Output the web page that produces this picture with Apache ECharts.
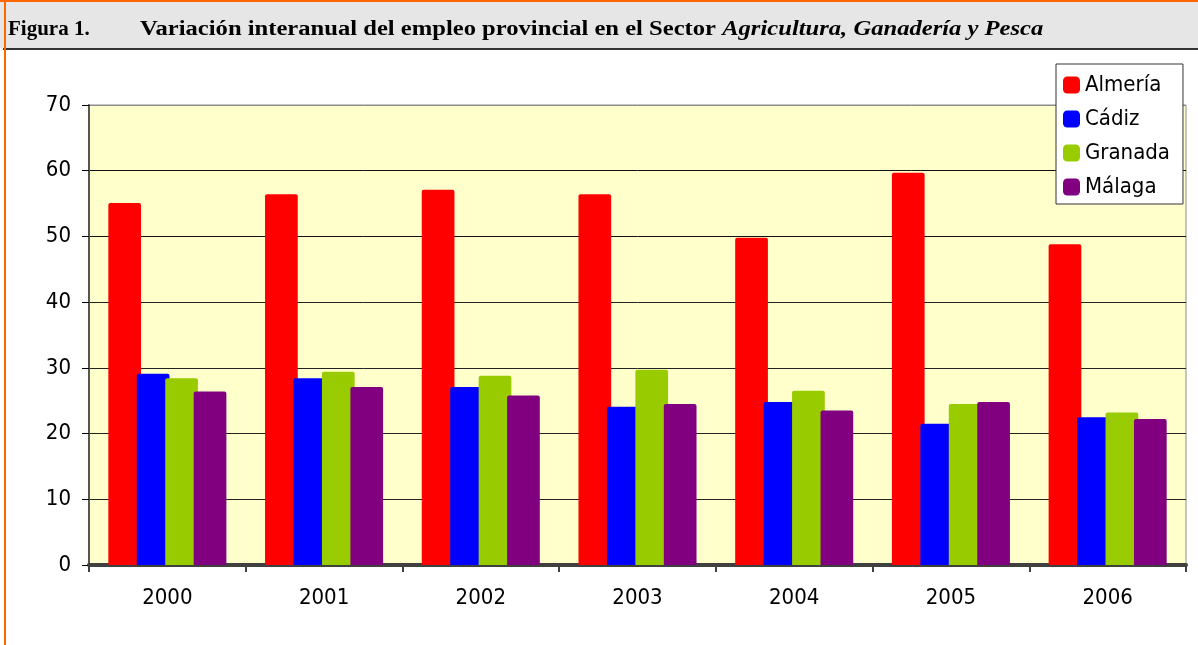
<!DOCTYPE html>
<html>
<head>
<meta charset="utf-8">
<script src="https://cdn.jsdelivr.net/npm/echarts@6/dist/echarts.min.js"></script>
<style>
  html, body { margin: 0; padding: 0; background: #ffffff; }
  #chart { width: 1198px; height: 645px; }
</style>
</head>
<body>
<div id="chart"></div>
<script>
// Years on the category axis
const years = ['2000', '2001', '2002', '2003', '2004', '2005', '2006'];

// Year-on-year employment variation by province (%)
const almeria = [55.1, 56.4, 57.1, 56.4, 49.8, 59.7, 48.8];
const cadiz   = [29.1, 28.4, 27.1, 24.1, 24.8, 21.5, 22.5];
const granada = [28.4, 29.4, 28.8, 29.7, 26.5, 24.5, 23.2];
const malaga  = [26.4, 27.1, 25.8, 24.5, 23.5, 24.8, 22.2];

const seriesNames = ['Almería', 'Cádiz', 'Granada', 'Málaga'];
const seriesData = [almeria, cadiz, granada, malaga];
const seriesColors = ['#FF0000', '#0000FF', '#99CC00', '#800080'];

const axisFont = '"DejaVu Sans Condensed", "DejaVu Sans", sans-serif';
const titleFont = '"Liberation Serif", serif';

const chart = echarts.init(document.getElementById('chart'), null, { renderer: 'canvas' });

chart.setOption({
  animation: false,
  backgroundColor: '#ffffff',
  graphic: [
    // header band
    { type: 'rect', z: -10, shape: { x: 0, y: 2, width: 1198, height: 46 }, style: { fill: '#E6E6E6' } },
    { type: 'rect', z: -9, shape: { x: 0, y: 0, width: 1198, height: 2 }, style: { fill: '#FF6600' } },
    { type: 'rect', z: -9, shape: { x: 3, y: 48, width: 1195, height: 2 }, style: { fill: '#333333' } },
    // left page rule
    { type: 'rect', z: -8, shape: { x: 4, y: 0, width: 2, height: 645 }, style: { fill: '#FF6600' } },
    // figure caption
    {
      type: 'text', z: 10, x: 8, y: 19,
      style: {
        text: 'Figura 1.',
        fontFamily: titleFont,
        fontWeight: 'bold',
        fontSize: 21,
        fill: '#000000',
        verticalAlign: 'top'
      }
    },
    {
      type: 'text', z: 10, x: 140, y: 19, scaleX: 1.2,
      style: {
        text: '{n|Variación interanual del empleo provincial en el Sector }{i|Agricultura, Ganadería y Pesca}',
        fontFamily: titleFont,
        fontWeight: 'bold',
        fontSize: 20.5,
        fill: '#000000',
        verticalAlign: 'top',
        rich: {
          n: { fontFamily: titleFont, fontWeight: 'bold', fontSize: 20.5, fill: '#000000' },
          i: { fontFamily: titleFont, fontWeight: 'bold', fontStyle: 'italic', fontSize: 20.5, fill: '#000000' }
        }
      }
    }
  ],
  legend: {
    orient: 'vertical',
    left: 1056, top: 64,
    padding: [10, 13, 6, 7],
    backgroundColor: '#ffffff',
    borderColor: '#333333',
    borderWidth: 1,
    borderRadius: 0,
    itemWidth: 17, itemHeight: 17,
    itemGap: 12,
    icon: 'roundRect',
    data: seriesNames,
    textStyle: { fontFamily: axisFont, fontSize: 22, color: '#000000', lineHeight: 21, padding: [0, 0, 0, 0] }
  },
  grid: {
    left: 89, right: 12, top: 105, bottom: 80,
    show: true,
    backgroundColor: '#FFFFCC',
    borderColor: '#8C8C8C',
    borderWidth: 1,
    containLabel: false
  },
  xAxis: {
    type: 'category',
    data: years,
    boundaryGap: true,
    axisLine: { show: true, lineStyle: { color: '#404040', width: 4 } },
    axisTick: { show: true, alignWithLabel: false, length: 7, lineStyle: { color: '#404040', width: 2 } },
    axisLabel: { fontFamily: axisFont, fontSize: 22, color: '#000000', margin: 22 },
    splitLine: { show: false }
  },
  yAxis: {
    type: 'value',
    min: 0, max: 70, interval: 10,
    axisLine: { show: true, lineStyle: { color: '#555555', width: 2 } },
    axisTick: { show: true, inside: false, length: 7, lineStyle: { color: '#000000', width: 1 } },
    axisLabel: { fontFamily: axisFont, fontSize: 22, color: '#000000', margin: 18 },
    splitLine: {
      show: true,
      lineStyle: {
        color: ['#333333', '#222222', '#222222', '#222222', '#222222', '#111111', '#111111', '#8C8C8C'],
        width: 1
      }
    }
  },
  series: seriesNames.map((name, i) => ({
    name: name,
    type: 'bar',
    data: seriesData[i],
    barWidth: 32.7,
    barGap: '-13%',
    itemStyle: { color: seriesColors[i], borderRadius: [2, 2, 0, 0] },
    emphasis: { disabled: true }
  }))
});
</script>
</body>
</html>
